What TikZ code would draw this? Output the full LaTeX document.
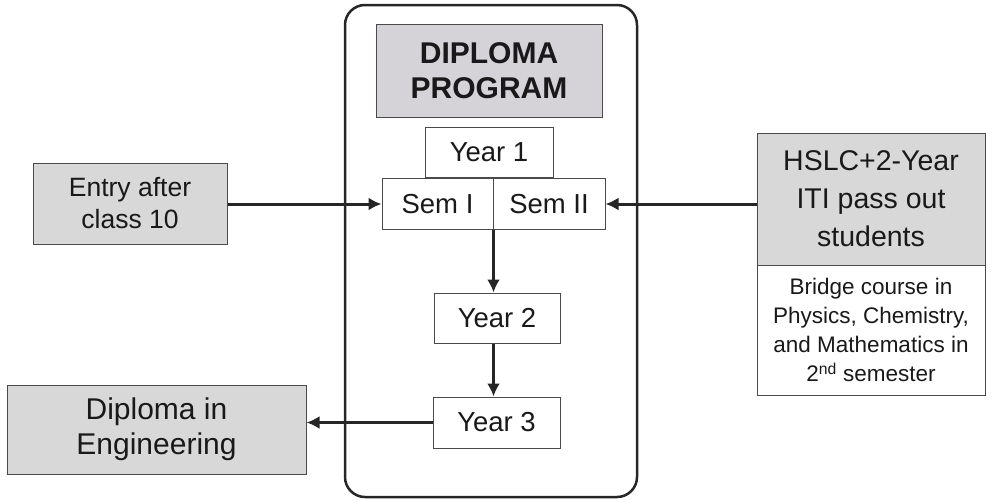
\documentclass[tikz,border=0pt]{standalone}
\usepackage{fontspec}
\setmainfont{Liberation Sans}
\usetikzlibrary{arrows.meta}
\definecolor{boxgray}{HTML}{D8D8D8}
\definecolor{titlegray}{HTML}{D6D3D8}
\definecolor{edge}{HTML}{4A4A4A}
\begin{document}
\begin{tikzpicture}[x=1pt,y=-1pt,
  box/.style={draw=edge, line width=1pt, inner sep=0pt, align=center, text=black!90},
  grey/.style={box, fill=boxgray},
  arr/.style={line width=3pt, draw=black!85, -{Latex[length=13pt,width=13pt]}},
  big/.style={font=\fontsize{27.5}{33}\selectfont},
  mid/.style={font=\fontsize{28.5}{38}\selectfont},
  small/.style={font=\fontsize{22.5}{29}\selectfont}]
\useasboundingbox (0,0) rectangle (992,501);
\node[draw=black!85, line width=2.5pt, rounded corners=20pt, minimum width=292pt, minimum height=492pt] (prog) at (491,251) {};
\node[grey, fill=titlegray, minimum width=226pt, minimum height=93pt, font=\fontsize{30}{35}\selectfont\bfseries] (title) at (489,70.5) {DIPLOMA\\PROGRAM};
\node[box, big, minimum width=128pt, minimum height=50pt] (y1) at (489,152) {Year 1};
\node[box, big, minimum width=111pt, minimum height=51pt] (s1) at (437.5,204) {Sem I};
\node[box, big, minimum width=112pt, minimum height=51pt] (s2) at (549,204) {Sem II};
\node[box, big, minimum width=126pt, minimum height=50pt] (y2) at (497,318) {Year 2};
\node[box, big, minimum width=127pt, minimum height=51pt] (y3) at (496.5,422.5) {Year 3};
\node[grey, font=\fontsize{26.5}{32}\selectfont, minimum width=194pt, minimum height=81pt] (entry) at (130,203.5) {Entry after\\class 10};
\node[grey, mid, minimum width=228pt, minimum height=132pt] (hslc) at (871,199) {HSLC+2-Year\\ITI pass out\\students};
\node[box, small, minimum width=228pt, minimum height=130pt] (bridge) at (871,330) {Bridge course in\\Physics, Chemistry,\\and Mathematics in\\2\textsuperscript{nd} semester};
\node[grey, font=\fontsize{30}{35}\selectfont, minimum width=299pt, minimum height=89pt] (dipl) at (156.5,429.5) {Diploma in\\Engineering};
\draw[arr] (entry.east |- s1) -- (s1.west);
\draw[arr] (hslc.west |- s2) -- (s2.east);
\draw[arr] (s1.south east) -- (s1.south east |- y2.north);
\draw[arr] (y2.south -| s1.south east) -- (s1.south east |- y3.north);
\draw[arr] (y3.west) -- (y3.west -| dipl.east);
\end{tikzpicture}
\end{document}
